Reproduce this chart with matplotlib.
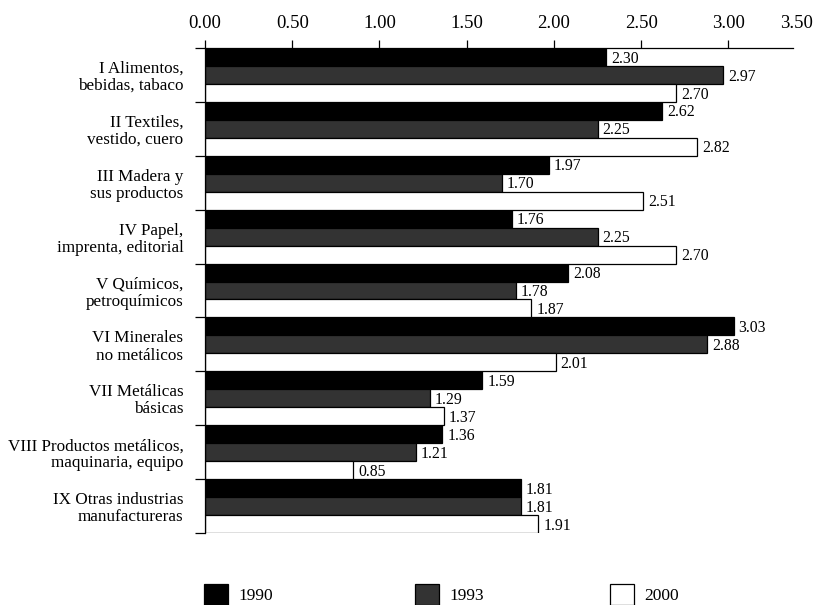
import numpy as np
import matplotlib.pyplot as plt
from matplotlib.patches import Patch

plt.rcParams['font.family'] = ['Liberation Serif', 'DejaVu Serif']

categories = ["I Alimentos,\nbebidas, tabaco",
              "II Textiles,\nvestido, cuero",
              "III Madera y\nsus productos",
              "IV Papel,\nimprenta, editorial",
              "V Químicos,\npetroquímicos",
              "VI Minerales\nno metálicos",
              "VII Metálicas\nbásicas",
              "VIII Productos metálicos,\nmaquinaria, equipo",
              "IX Otras industrias\nmanufactureras"]
years = ["1990", "1993", "2000"]
v1990 = [2.30, 2.62, 1.97, 1.76, 2.08, 3.03, 1.59, 1.36, 1.81]
v1993 = [2.97, 2.25, 1.70, 2.25, 1.78, 2.88, 1.29, 1.21, 1.81]
v2000 = [2.70, 2.82, 2.51, 2.70, 1.87, 2.01, 1.37, 0.85, 1.91]
xticks = [0.0, 0.5, 1.0, 1.5, 2.0, 2.5, 3.0]

series = [v1990, v1993, v2000]
faces = ["black", "#333333", "white"]

fig = plt.figure(figsize=(8.16, 6.05), dpi=100)
ax = fig.add_axes([0.2512, 0.119, 0.7206, 0.8017])

n = len(categories)
y = np.arange(n)
h = 1 / 3
for k, vals in enumerate(series):
    pos = y + (k - 1) * h
    ax.barh(pos, vals, height=h, color=faces[k], edgecolor="black", linewidth=0.9)
    for p, v in zip(pos, vals):
        ax.text(v + 0.028, p + 0.03, f"{v:.2f}", va="center", ha="left", fontsize=11.3)

ax.set_ylim(n - 0.5, -0.5)
ax.set_xlim(0, 3.37)
ax.xaxis.tick_top()
ax.set_xticks(xticks)
ax.set_xticklabels([f"{t:.2f}" for t in xticks], fontsize=13.5)
ax.tick_params(axis="x", direction="out", length=6, pad=5.5, width=0.9)
ax.annotate("3.50", xy=(3.39, 1), xycoords=("data", "axes fraction"),
            xytext=(0, 11.5), textcoords="offset points",
            ha="center", va="bottom", fontsize=13.5, annotation_clip=False)

ax.set_yticks(np.arange(n + 1) - 0.5)
ax.set_yticklabels([])
ax.set_yticks(y, minor=True)
ax.set_yticklabels(categories, minor=True, fontsize=12.3, linespacing=1.1)
ax.tick_params(axis="y", which="major", direction="out", length=7, width=0.9)
ax.tick_params(axis="y", which="minor", length=0, pad=15.5)
for lab in ax.get_yticklabels(minor=True):
    lab.set_ha("right")

ax.spines["right"].set_visible(False)
ax.spines["bottom"].set_visible(False)
for s in ["top", "left"]:
    ax.spines[s].set_linewidth(0.9)

# one legend entry per year, spaced like the reference
legend_x = [0.2304, 0.489, 0.728]
for k in range(3):
    hnd = Patch(facecolor=faces[k], edgecolor="black", linewidth=0.9, label=years[k])
    fig.legend(handles=[hnd], loc="lower left", bbox_to_anchor=(legend_x[k], -0.025),
               frameon=False, fontsize=12.5, handlelength=1.4, handleheight=1.4,
               handletextpad=0.6)

fig.savefig("out.png", dpi=100)
